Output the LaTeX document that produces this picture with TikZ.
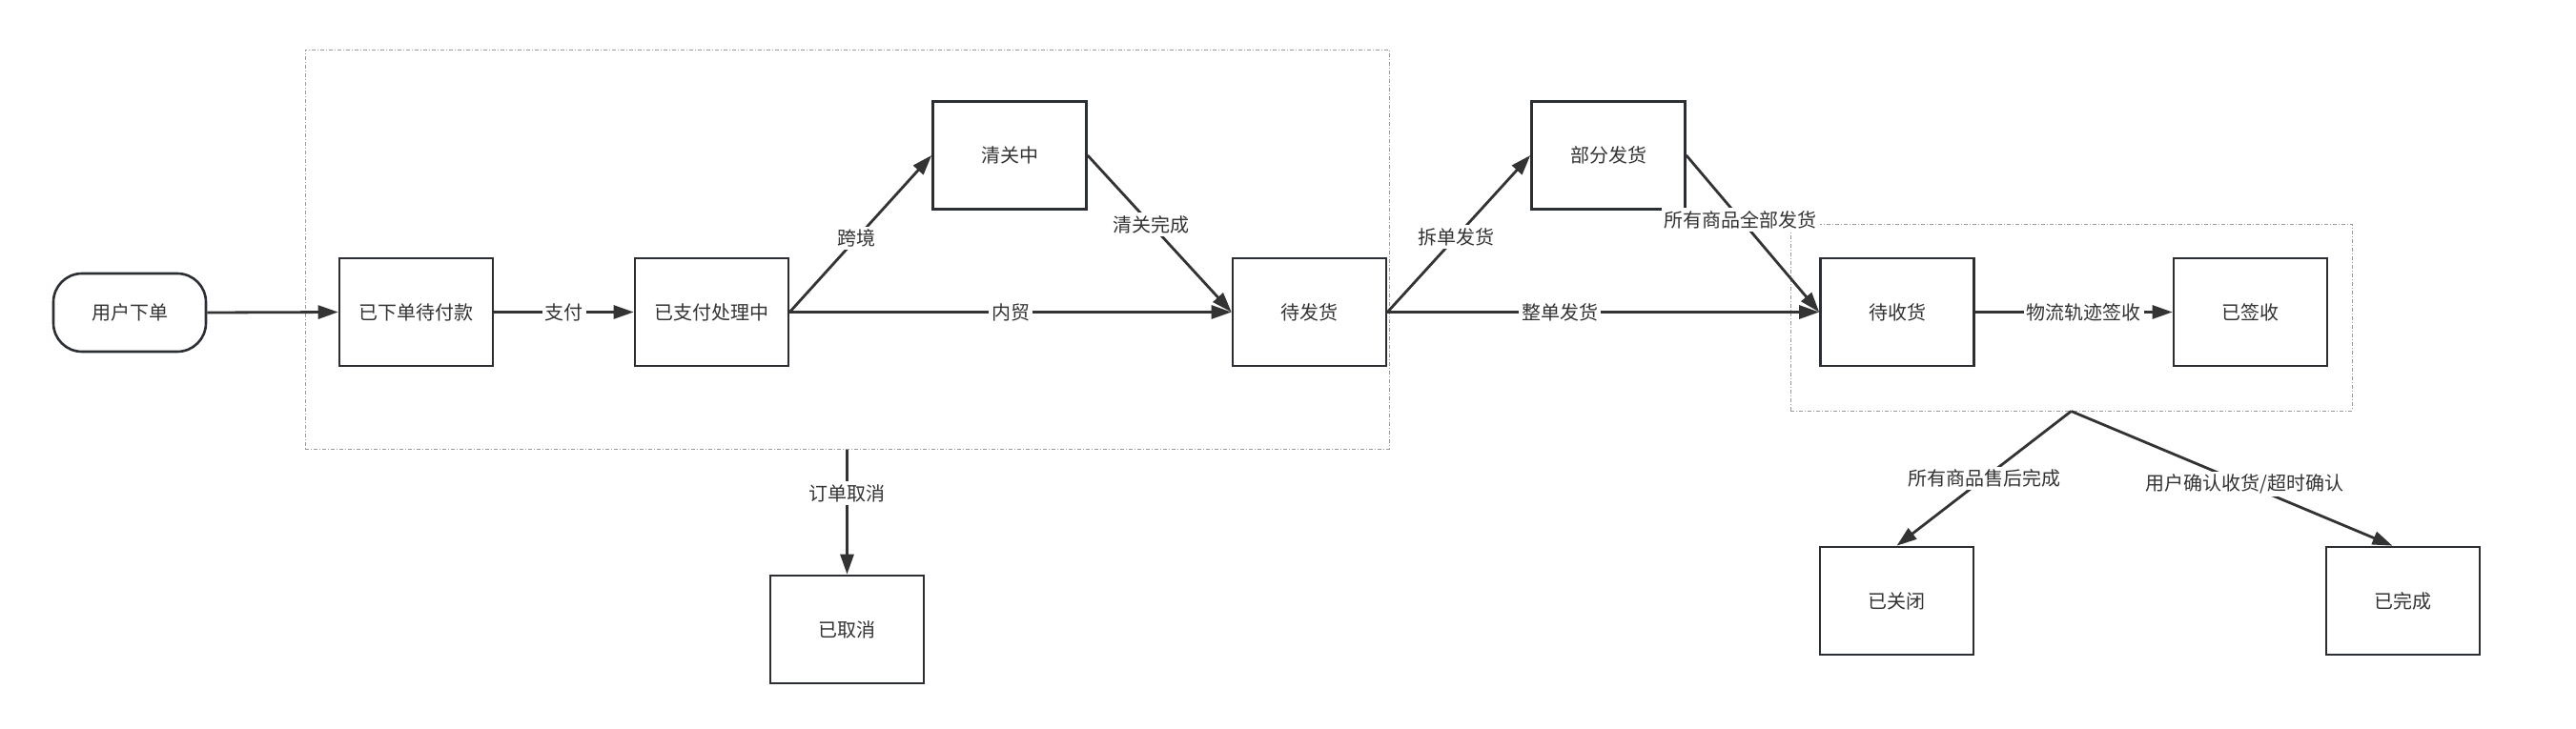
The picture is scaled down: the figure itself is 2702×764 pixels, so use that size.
\documentclass[tikz,border=0pt]{standalone}
\usepackage{fontspec}
\setmainfont{Noto Sans CJK SC}
\usetikzlibrary{arrows.meta}
\definecolor{ink}{HTML}{333333}
\definecolor{edge}{HTML}{2B2F33}
\definecolor{grp}{HTML}{9A9A9A}
\begin{document}
\begin{tikzpicture}[x=1pt,y=-1pt,
  every node/.style={font=\fontsize{20}{24}\selectfont, text=ink},
  state/.style={draw=edge, line width=2.6pt, fill=white, minimum width=161pt, minimum height=113pt, inner sep=0pt},
  term/.style={draw=edge, line width=2.6pt, fill=white, minimum width=160pt, minimum height=82pt, inner sep=0pt, rounded corners=30pt},
  group/.style={draw=grp, line width=1pt, dash pattern=on 4pt off 2pt on 1pt off 2pt},
  flow/.style={draw=ink, line width=2.8pt, -{Triangle[length=21pt,width=14pt]}},
  lbl/.style={fill=white, inner sep=3pt}]
\useasboundingbox (0,0) rectangle (2702,764);
\node[group, minimum width=1137pt, minimum height=419pt, inner sep=0pt] (g1) at (888.5,261.5) {};
\node[group, minimum width=589pt, minimum height=196pt, inner sep=0pt] (g2) at (2172.5,333) {};
\node[term] (s) at (136,328) {用户下单};
\node[state] (n1) at (436.5,327.5) {已下单待付款};
\node[state] (n2) at (746.5,327.5) {已支付处理中};
\node[state] (n3) at (1059,163) {清关中};
\node[state] (n4) at (1373.5,327.5) {待发货};
\node[state] (n5) at (1687,163) {部分发货};
\node[state] (n6) at (1990,327.5) {待收货};
\node[state] (n7) at (2360.5,327.5) {已签收};
\node[state] (n8) at (888.5,660.5) {已取消};
\node[state] (n9) at (1989.5,630.5) {已关闭};
\node[state] (n10) at (2520.5,630.5) {已完成};
\draw[flow] (s.east) -- (n1.west);
\draw[flow] (n1.east) -- node[lbl, pos=0.5] {支付} (n2.west);
\draw[flow] (n2.east) -- node[lbl, pos=0.47] {跨境} (n3.west);
\draw[flow] (n3.east) -- node[lbl, pos=0.44] {清关完成} (n4.west);
\draw[flow] (n2.east) -- node[lbl, pos=0.5] {内贸} (n4.west);
\draw[flow] (n4.east) -- node[lbl, pos=0.48] {拆单发货} (n5.west);
\draw[flow] (n5.east) -- node[lbl, pos=0.41] {所有商品全部发货} (n6.west);
\draw[flow] (n4.east) -- node[lbl, pos=0.4] {整单发货} (n6.west);
\draw[flow] (n6.east) -- node[lbl, pos=0.55] {物流轨迹签收} (n7.west);
\draw[flow] (g1.south) -- node[lbl, pos=0.35] {订单取消} (n8.north);
\draw[flow] (g2.south) -- node[lbl, pos=0.5] {所有商品售后完成} (n9.north);
\draw[flow] (g2.south) -- node[lbl, pos=0.54] {用户确认收货/超时确认} ([xshift=-11pt]n10.north);
\end{tikzpicture}
\end{document}
